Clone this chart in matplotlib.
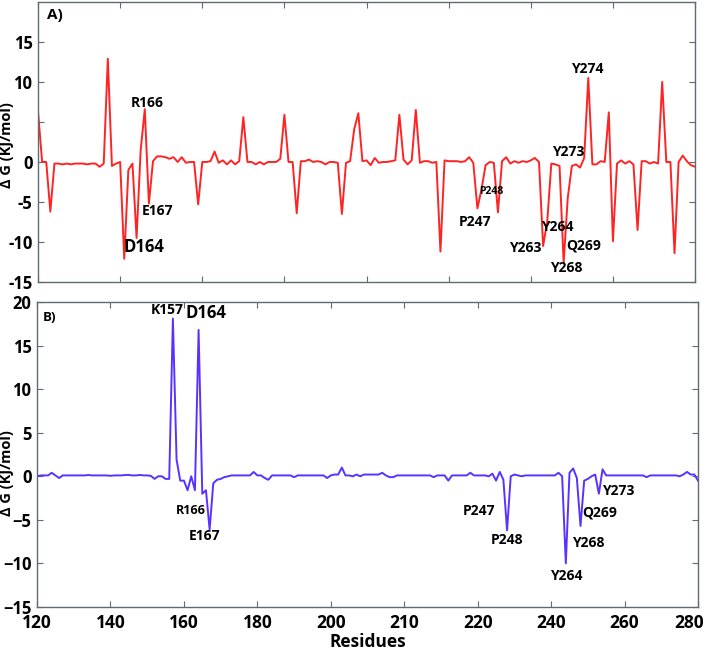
import numpy as np
import matplotlib
matplotlib.use('Agg')
import matplotlib.pyplot as plt
import matplotlib.transforms as mtransforms

plt.rcParams['font.family'] = ['Open Sans', 'DejaVu Sans']
plt.rcParams['font.weight'] = 'bold'

# panel A: delta G per residue index
res_a = list(range(120, 281))
dg_a = [6.3, 0, 0, -6.2, -0.2, -0.2, -0.3, -0.2, -0.3, -0.2,
        -0.2, -0.2, -0.3, -0.2, -0.2, -0.6, -0.2, 12.9, -0.5, -0.2,
        0, -12.1, -1.0, -0.2, -9.5, 1.5, 6.6, -5.2, 0.1, 0.7,
        0.7, 0.6, 0.4, 0.6, 0.0, 0.6, -0.1, 0, 0, -5.3,
        0, 0, 0.1, 1.3, -0.1, 0.2, -0.3, 0.2, -0.3, 0.1,
        5.6, 0, 0, -0.3, 0, -0.3, 0, 0, 0, 0.4,
        5.9, 0, 0, -6.4, 0.1, 0.1, 0.3, 0, 0.1, 0,
        -0.3, 0, 0, -0.1, -6.5, -0.1, 0.1, 4.1, 6.1, 0.1,
        0.2, -0.4, 0.5, -0.1, 0, 0, 0.1, 0.2, 5.9, 0.3,
        -0.3, 0.2, 6.5, -0.1, 0.1, 0.1, -0.1, 0, -11.2, 0.2,
        0.1, 0.1, 0.1, 0, 0.1, 0.6, -0.1, -5.8, -3.4, -0.4,
        0, -0.1, -6.3, 0.1, 0.6, -0.2, 0.1, -0.1, 0.1, 0,
        0.2, 0.5, 0, -10.5, -7.5, -0.2, -0.3, -0.5, -12.6, -4.5,
        -0.5, -0.3, -0.7, 0.5, 10.5, -0.3, -0.3, 0.1, 0, 6.2,
        -9.9, -0.2, 0.2, -0.2, 0.1, -0.3, -8.5, 0.1, 0.1, -0.2,
        0, -0.2, 10.0, 0, 0, -11.4, 0, 0.8, 0.1, -0.4,
        -0.6]

# panel B: delta G per residue
res_b = list(range(120, 301))
dg_b = [0, 0.1, 0.1, 0.1, 0.4, 0.1, -0.2, 0.1, 0.1, 0.1,
        0.1, 0.1, 0.1, 0.1, 0.15, 0.1, 0.1, 0.1, 0.1, 0.1,
        0.05, 0.1, 0.1, 0.1, 0.15, 0.15, 0.1, 0.1, 0.15, 0.1,
        0.1, 0.05, -0.3, 0, 0, -0.3, -0.3, 18.1, 1.9, -0.5,
        -0.5, -1.6, 0, -1.6, 16.8, -2.0, -1.6, -6.1, -0.8, -0.4,
        -0.3, -0.1, 0, 0.1, 0.1, 0.1, 0.1, 0.1, 0.1, 0.5,
        0.1, 0.1, -0.2, -0.4, 0.1, 0.1, 0.1, 0.1, 0.1, 0.1,
        -0.1, 0.1, 0.1, 0.1, 0.1, 0.1, 0.1, 0.1, 0.1, -0.2,
        0.1, 0.2, 0.2, 1.0, 0.1, 0.1, 0, 0.2, 0, 0.2,
        0.2, 0.2, 0.2, 0.2, 0.4, 0.1, -0.1, -0.1, 0.1, 0.1,
        0.1, 0.1, 0.1, 0.1, 0.1, 0.1, 0.1, 0.1, -0.1, 0.1,
        0.1, 0.1, -0.5, 0.1, 0.1, 0.1, 0.1, 0.1, 0.4, 0.1,
        0.1, 0.1, 0.1, 0, 0.3, -0.5, 0.5, -0.4, -6.2, 0,
        0.2, 0.1, 0, 0.1, 0.1, 0.1, 0.1, 0.1, 0.1, 0.1,
        0.1, 0.1, 0.4, 0, -10.0, 0.4, 0.9, -0.2, -5.7, -0.5,
        -0.3, 0, 0.2, -2.0, 0.8, 0.1, 0.1, 0.1, 0.1, 0.1,
        0.1, 0.1, 0.1, 0.1, 0.1, 0.1, -0.1, 0.1, 0.1, 0.1,
        0.1, 0.1, 0.1, 0.1, 0.1, 0, 0.2, 0.5, 0.2, 0.2,
        -0.5]

# labels: (text, x, y, fontsize)
labels_a = [('R166', 146.5, 7.4, 10), ('E167', 149.1, -6.1, 10), ('D164', 145.8, -10.6, 12),
            ('P248', 230.3, -3.7, 7.5), ('P247', 226.4, -7.5, 10), ('Y263', 238.6, -10.8, 10),
            ('Y264', 246.5, -8.1, 10), ('Q269', 253.0, -10.5, 10), ('Y268', 248.6, -13.2, 10),
            ('Y273', 249.2, 1.3, 10), ('Y274', 253.7, 11.6, 10)]
labels_b = [('K157', 155.5, 19.1, 10), ('D164', 166.0, 18.7, 12), ('R166', 162.0, -3.9, 9),
            ('E167', 165.5, -6.8, 10), ('P247', 240.4, -4.0, 10), ('P248', 248.1, -7.3, 10),
            ('Y264', 264.2, -11.4, 10), ('Y268', 270.0, -7.6, 10), ('Q269', 273.3, -4.1, 10),
            ('Y273', 278.3, -1.7, 10)]
xtick_b = [120, 140, 160, 180, 200, 210, 220, 240, 260, 280]

spine_col = '#5f6b70'

fig = plt.figure(figsize=(7.08, 6.55), dpi=100)
ax1 = fig.add_axes([0.0537, 0.5695, 0.928, 0.4275])
ax2 = fig.add_axes([0.0523, 0.0733, 0.9336, 0.4656])

ax1.plot(res_a, dg_a, color='#ff2424', lw=1.4)
ax1.set_xlim(120, 280)
ax1.set_ylim(-15, 20)
ax1.set_xticks(range(120, 281, 20))
ax1.set_xticklabels([])
ax1.set_yticks(range(-15, 20, 5))
ax1.set_yticklabels(['-15', '-10', '-5', '0', '', '10', '15'])
for t, x, y, fs in labels_a:
    ax1.text(x, y, t, ha='center', va='center', fontsize=fs, fontweight='bold')
ax1.text(0.014, 0.955, 'A)', transform=ax1.transAxes, fontsize=11, fontweight='bold', va='center')
ax1.set_ylabel('\u0394 G (KJ/mol)', fontsize=10.5, fontweight='bold')
ax1.yaxis.set_label_coords(-0.037, 0.49)

ax2.plot(res_b, dg_b, color='#5a32ff', lw=1.4)
ax2.set_xlim(120, 300)
ax2.set_ylim(-15, 20)
ax2.set_xticks(range(120, 301, 20))
ax2.set_xticklabels(xtick_b)
ax2.set_yticks(range(-15, 21, 5))
for t, x, y, fs in labels_b:
    ax2.text(x, y, t, ha='center', va='center', fontsize=fs, fontweight='bold')
ax2.text(0.008, 0.95, 'B)', transform=ax2.transAxes, fontsize=9.5, fontweight='bold', va='center')
ax2.set_xlabel('Residues', fontsize=12.5, fontweight='bold', labelpad=1)
ax2.set_ylabel('\u0394 G (KJ/mol)', fontsize=10.5, fontweight='bold')
ax2.yaxis.set_label_coords(-0.035, 0.44)

for ax in (ax1, ax2):
    for s in ax.spines.values():
        s.set_color(spine_col)
        s.set_linewidth(1.0)
    ax.tick_params(direction='in', top=True, right=True, length=4, color=spine_col,
                   labelsize=12, pad=4)
    for lab in ax.get_xticklabels() + ax.get_yticklabels():
        lab.set_fontweight('bold')
ax2.tick_params(axis='x', labelsize=12.5, pad=5)

# last tick label sits on the figure edge; nudge it inward a bit
last = ax2.get_xticklabels()[-1]
last.set_transform(last.get_transform() + mtransforms.ScaledTranslation(-0.09, 0, fig.dpi_scale_trans))

fig.savefig('out.png', dpi=100)
